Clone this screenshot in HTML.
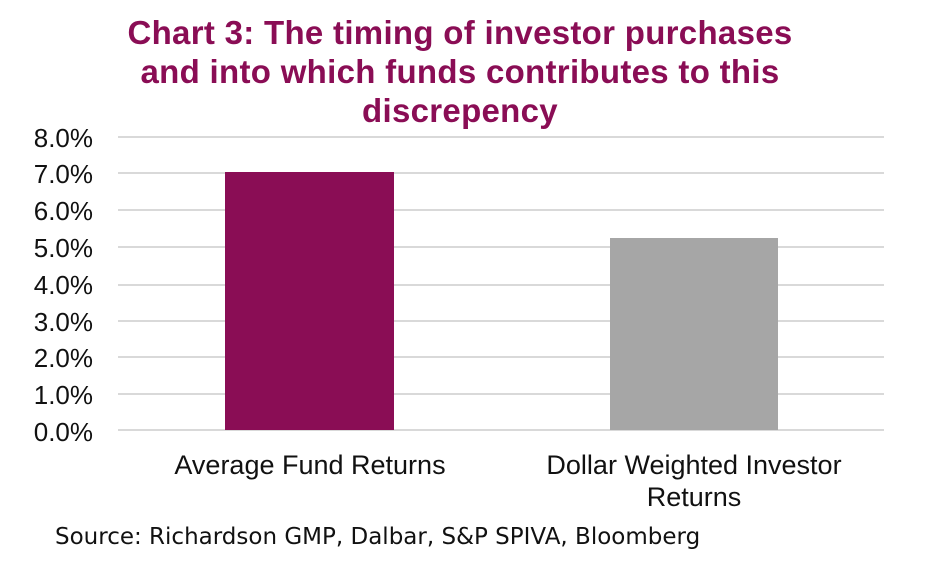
<!DOCTYPE html>
<html><head><meta charset="utf-8"><style>
body{margin:0;background:#fff;}
#c{position:relative;width:926px;height:585px;overflow:hidden;font-family:"Liberation Sans",sans-serif;}
.t{position:absolute;left:0;width:920px;text-align:center;color:#8a0d55;font-weight:bold;font-size:33px;line-height:39px;top:13px;letter-spacing:0.3px;}
.g{position:absolute;left:118px;width:766px;height:2px;background:#d9d9d9;}
.y{position:absolute;left:0;width:93px;text-align:right;font-size:26px;color:#111;line-height:26px;}
.x{position:absolute;text-align:center;font-size:27px;line-height:32px;color:#111;}
</style></head><body><div id="c">
<div class="t">Chart 3: The timing of investor purchases<br>and into which funds contributes to this<br>discrepency</div>
<div class="g" style="top:136px"></div><div class="y" style="top:125px">8.0%</div>
<div class="g" style="top:172px"></div><div class="y" style="top:161px">7.0%</div>
<div class="g" style="top:209px"></div><div class="y" style="top:198px">6.0%</div>
<div class="g" style="top:246px"></div><div class="y" style="top:235px">5.0%</div>
<div class="g" style="top:284px"></div><div class="y" style="top:272px">4.0%</div>
<div class="g" style="top:320px"></div><div class="y" style="top:309px">3.0%</div>
<div class="g" style="top:356px"></div><div class="y" style="top:345px">2.0%</div>
<div class="g" style="top:393px"></div><div class="y" style="top:382px">1.0%</div>
<div class="g" style="top:429px"></div><div class="y" style="top:419px">0.0%</div>
<div style="position:absolute;left:225px;top:172px;width:169px;height:258px;background:#8a0d55"></div>
<div style="position:absolute;left:610px;top:238px;width:168px;height:192px;background:#a6a6a6"></div>
<div class="x" style="left:110px;width:400px;top:449px">Average Fund Returns</div>
<div class="x" style="left:494px;width:400px;top:449px">Dollar Weighted Investor<br>Returns</div>
<div style="position:absolute;left:55px;top:524px;font-family:'DejaVu Sans',sans-serif;font-size:23px;color:#111;">Source: Richardson GMP, Dalbar, S&amp;P SPIVA, Bloomberg</div>
</div></body></html>
